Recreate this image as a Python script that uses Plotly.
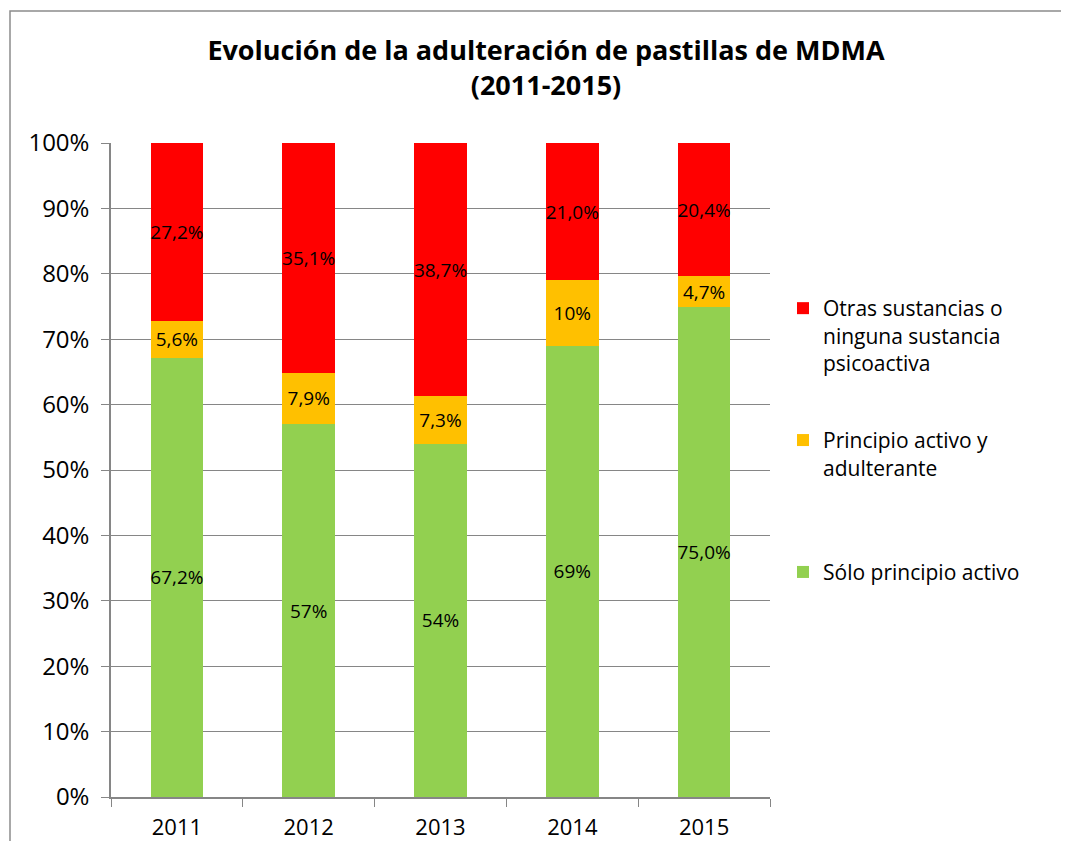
import plotly.graph_objects as go

years = ["2011", "2012", "2013", "2014", "2015"]
solo = [67.2, 57.0, 54.0, 69.0, 75.0]
solo_labels = ["67,2%", "57%", "54%", "69%", "75,0%"]
adult = [5.6, 7.9, 7.3, 10.0, 4.7]
adult_labels = ["5,6%", "7,9%", "7,3%", "10%", "4,7%"]
otras = [27.2, 35.1, 38.7, 21.0, 20.4]
otras_labels = ["27,2%", "35,1%", "38,7%", "21,0%", "20,4%"]

names = ["Sólo principio activo", "Principio activo y<br>adulterante<br> ",
         "Otras sustancias o<br>ninguna sustancia<br>psicoactiva"]
colors = ["#92D050", "#FFC000", "#FF0000"]
ranks = [3, 2, 1]

FONT = "Open Sans"
OFF = 8  # page body margin
fig = go.Figure()
for i, (vals, labs) in enumerate([(solo, solo_labels), (adult, adult_labels), (otras, otras_labels)]):
    fig.add_bar(x=years, y=vals, name=names[i], marker_color=colors[i], marker_line_width=0,
                text=labs, texttemplate="%{text}", textposition="inside",
                insidetextanchor="middle", textangle=0, constraintext="none",
                textfont=dict(family=FONT, size=19, color="black"),
                legendgroup=f"g{i}", legendrank=ranks[i], hoverinfo="skip")

W, H = 1069 - OFF, 841 - OFF
# plot area in window coordinates: x 111..770, y 143..797
L, T = 111 - OFF, 143 - OFF
R = W - (770 - OFF)
B = H - (797 - OFF)
pw, ph = W - L - R, H - T - B

def px(x):
    return (x - OFF - L) / pw

def py(y):
    return (H - B - (y - OFF)) / ph

fig.update_layout(
    width=W, height=H, autosize=False,
    margin=dict(l=L, r=R, t=T, b=B, autoexpand=False),
    barmode="stack", barnorm="percent", bargap=0.6,
    paper_bgcolor="white", plot_bgcolor="white",
    font=dict(family=FONT, color="black"),
    title=dict(text="<b>Evolución de la adulteración de pastillas de MDMA<br>(2011-2015)</b>",
               font=dict(family=FONT, size=27, color="black"),
               xref="container", x=(546 - OFF) / W, xanchor="center",
               yref="container", y=1 - (60 - OFF) / H, yanchor="top"),
    legend=dict(x=px(783), y=py(288), xanchor="left", yanchor="top",
                traceorder="grouped", tracegroupgap=47, valign="top",
                font=dict(family=FONT, size=21, color="black"),
                bgcolor="rgba(0,0,0,0)"),
    showlegend=True,
    shapes=[dict(type="rect", xref="paper", yref="paper",
                 x0=px(10), x1=px(1065), y0=py(870), y1=py(11),
                 line=dict(color="#8C8C8C", width=1.5), layer="below")],
)
fig.update_xaxes(type="category", tickson="boundaries", ticks="outside", ticklen=8,
                 tickcolor="#868686", showline=True, linecolor="#868686", linewidth=1.5,
                 tickfont=dict(family=FONT, size=22, color="black"), automargin=False,
                 ticklabelstandoff=10)
fig.update_yaxes(range=[0, 100], dtick=10, ticksuffix="%", ticks="outside", ticklen=8,
                 tickcolor="#868686", showline=True, linecolor="#868686", linewidth=1.5,
                 showgrid=True, gridcolor="#868686", gridwidth=1.2, zeroline=False,
                 tickfont=dict(family=FONT, size=24, color="black"), automargin=False,
                 ticklabelstandoff=7)

fig.write_html("out.html")
